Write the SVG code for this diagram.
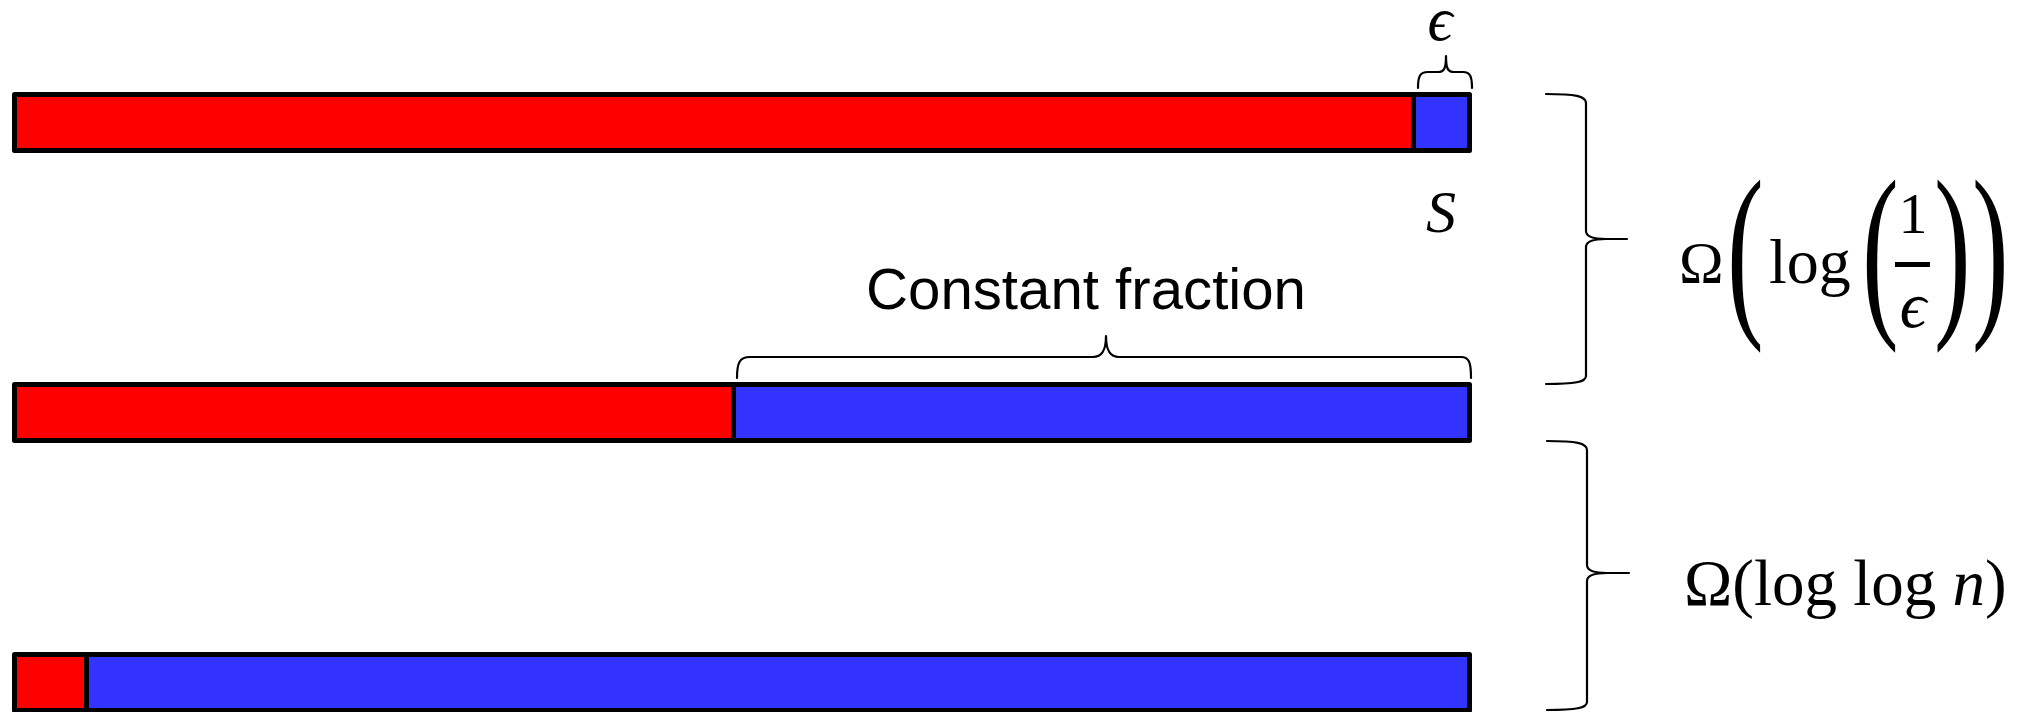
<svg xmlns="http://www.w3.org/2000/svg" width="2034" height="712" viewBox="0 0 2034 712">
<style>
.bar{stroke:#000;stroke-width:5;stroke-linejoin:round}
.red{fill:#FF0000}
.blue{fill:#3333FF}
.div{stroke:#000;stroke-width:5}
.brace{fill:none;stroke:#000;stroke-width:2.2;stroke-linecap:round;stroke-linejoin:round}
.m{font-family:"Liberation Serif","DejaVu Serif",serif;fill:#000}
.i{font-style:italic}
.lbl{font-family:"Liberation Sans",Arial,sans-serif;fill:#000}
</style>
<rect width="2034" height="712" fill="#fff"/>
<g id="bar1">
<rect class="red" x="14.5" y="94.5" width="1399" height="56"/>
<rect class="blue" x="1413.5" y="94.5" width="56" height="56"/>
<rect class="bar" x="14.5" y="94.5" width="1455" height="56" fill="none"/>
<line class="div" x1="1413.5" y1="94.5" x2="1413.5" y2="150.5"/>
</g>
<g id="bar2">
<rect class="red" x="14.5" y="384.5" width="719" height="56"/>
<rect class="blue" x="733.5" y="384.5" width="736" height="56"/>
<rect class="bar" x="14.5" y="384.5" width="1455" height="56" fill="none"/>
<line class="div" x1="733.5" y1="384.5" x2="733.5" y2="440.5"/>
</g>
<g id="bar3">
<rect class="red" x="14.5" y="654.5" width="72" height="56"/>
<rect class="blue" x="86.5" y="654.5" width="1383" height="56"/>
<rect class="bar" x="14.5" y="654.5" width="1455" height="56" fill="none"/>
<line class="div" x1="86.5" y1="654.5" x2="86.5" y2="710.5"/>
</g>
<g id="connectors">
<path class="brace" d="M1418,88 C1418,76 1420,72 1428,72 L1438,72 C1444,72 1446,69 1446,56 C1446,69 1448,72 1454,72 L1463,72 C1470,72 1472,76 1472,88"/>
<path class="brace" d="M737,378 C737,362 740,357 750,357 L1093,357 C1101,357 1106,352 1106,336 C1106,352 1111,357 1119,357 L1461,357 C1469,357 1471,362 1471,378"/>
<path class="brace" d="M1546,94 C1575,94 1586,96 1586,103 L1586,231 C1586,236 1592,239 1606,239 L1627,239 L1606,239 C1592,239 1586,242 1586,247 L1586,376 C1586,382 1575,384 1546,384"/>
<path class="brace" d="M1547,441 C1576,441 1587,443 1587,450 L1587,565 C1587,570 1593,573 1607,573 L1629,573 L1607,573 C1593,573 1587,576 1587,581 L1587,702 C1587,708 1576,710 1547,710"/>
</g>
<g id="label-eps">
<text class="m i" x="1440" y="40" font-size="62" text-anchor="middle">ϵ</text>
</g>
<g id="label-S">
<text class="m i" x="1441" y="232" font-size="60" text-anchor="middle">S</text>
</g>
<g id="label-constant">
<text class="lbl" x="1086" y="309" font-size="57" text-anchor="middle" textLength="440" lengthAdjust="spacingAndGlyphs">Constant fraction</text>
</g>
<g id="formula1">
<text class="m" x="1679" y="283" font-size="60">Ω</text>
<text class="m" transform="translate(1727,312) scale(1,1.727)" font-size="110">(</text>
<text class="m" x="1769" y="283" font-size="64">log</text>
<text class="m" transform="translate(1862,312) scale(1,1.727)" font-size="110">(</text>
<text class="m" x="1913" y="233" font-size="58" text-anchor="middle">1</text>
<rect x="1895" y="262" width="35" height="5" fill="#000"/>
<text class="m i" x="1913" y="327" font-size="66" text-anchor="middle">ϵ</text>
<text class="m" transform="translate(1934,312) scale(1,1.727)" font-size="110">)</text>
<text class="m" transform="translate(1972,312) scale(1,1.727)" font-size="110">)</text>
</g>
<g id="formula2">
<text class="m" x="1684" y="605" font-size="65">Ω(log log <tspan class="i">n</tspan>)</text>
</g>
</svg>
